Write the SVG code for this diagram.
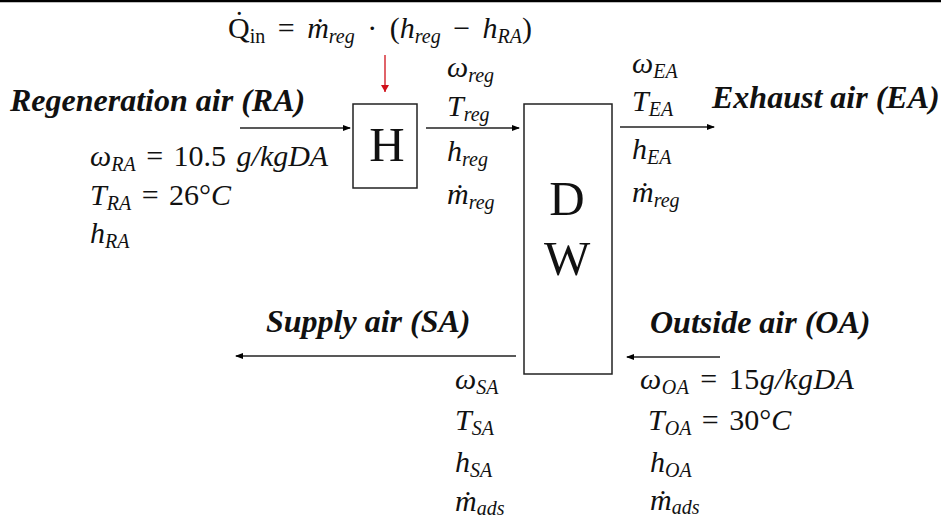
<svg xmlns="http://www.w3.org/2000/svg" width="941" height="522" viewBox="0 0 941 522">
<defs>
<marker id="ah" markerWidth="8" markerHeight="6" refX="7" refY="3" orient="auto" markerUnits="userSpaceOnUse"><path d="M0,0 L8,3 L0,6 z" fill="#000"/></marker>
<marker id="ahr" markerWidth="8" markerHeight="7" refX="4" refY="7" orient="0" markerUnits="userSpaceOnUse"><path d="M0,0 L8,0 L4,7 z" fill="#d0101a"/></marker>
</defs>
<style>
.t{font-family:"Liberation Serif","Times New Roman",serif;font-style:italic;font-weight:bold;font-size:32px;fill:#111}
.m{font-family:"Liberation Serif","Times New Roman",serif;font-style:italic;font-size:30px;fill:#111}
.u{font-style:normal}
.s{font-size:20px}
.big{font-family:"Liberation Serif","Times New Roman",serif;font-size:49px;fill:#111;text-anchor:middle}
.box{fill:#fff;stroke:#222;stroke-width:1.5}
.ln{stroke:#222;stroke-width:1.3;fill:none}
</style>
<rect width="941" height="522" fill="#fff"/>
<line x1="0" y1="1" x2="941" y2="1" stroke="#000" stroke-width="2.5"/>

<g id="connectors">
<line class="ln" x1="240" y1="128" x2="350" y2="128" marker-end="url(#ah)"/>
<line class="ln" x1="426" y1="128" x2="519" y2="128" marker-end="url(#ah)"/>
<line class="ln" x1="620" y1="127" x2="714" y2="127" marker-end="url(#ah)"/>
<line class="ln" x1="516" y1="356" x2="236" y2="356" marker-end="url(#ah)"/>
<line class="ln" x1="720" y1="357" x2="627" y2="357" marker-end="url(#ah)"/>
<line x1="385" y1="55" x2="385" y2="92" stroke="#d0101a" stroke-width="1.3" marker-end="url(#ahr)"/>
</g>

<g id="heater">
<rect class="box" x="353" y="104" width="64" height="84"/>
<text class="big" x="387" y="161">H</text>
</g>

<g id="desiccant-wheel">
<rect class="box" x="524" y="104" width="88" height="270"/>
<text class="big" x="567" y="215">D</text>
<text class="big" x="567" y="275">W</text>
</g>

<g id="heat-input">
<text class="m" x="228" y="38" word-spacing="5"><tspan class="u">Q̇</tspan><tspan class="u s" dy="5">in</tspan><tspan class="u" dy="-5"> = </tspan>ṁ<tspan class="s" dy="5">reg</tspan><tspan class="u" dy="-5"> · (</tspan>h<tspan class="s" dy="5">reg</tspan><tspan class="u" dy="-5"> − </tspan>h<tspan class="s" dy="5">RA</tspan><tspan class="u" dy="-5">)</tspan></text>
</g>

<g id="regeneration-air">
<text class="t" x="10" y="111">Regeneration air (RA)</text>
<text class="m" x="90" y="166" word-spacing="3">ω<tspan class="s" dy="5">RA</tspan><tspan class="u" dy="-5"> = 10.5 </tspan>g/kgDA</text>
<text class="m" x="90" y="205" word-spacing="3">T<tspan class="s" dy="5">RA</tspan><tspan class="u" dy="-5"> = 26°</tspan>C</text>
<text class="m" x="90" y="243">h<tspan class="s" dy="5">RA</tspan></text>
</g>

<g id="reg-stream">
<text class="m" x="447" y="77">ω<tspan class="s" dy="5">reg</tspan></text>
<text class="m" x="447" y="116">T<tspan class="s" dy="5">reg</tspan></text>
<text class="m" x="447" y="161">h<tspan class="s" dy="5">reg</tspan></text>
<text class="m" x="447" y="204">ṁ<tspan class="s" dy="5">reg</tspan></text>
</g>

<g id="exhaust-air">
<text class="t" x="712" y="108">Exhaust air (EA)</text>
<text class="m" x="632" y="73">ω<tspan class="s" dy="5">EA</tspan></text>
<text class="m" x="632" y="111">T<tspan class="s" dy="5">EA</tspan></text>
<text class="m" x="632" y="159">h<tspan class="s" dy="5">EA</tspan></text>
<text class="m" x="632" y="202">ṁ<tspan class="s" dy="5">reg</tspan></text>
</g>

<g id="supply-air">
<text class="t" x="266" y="332">Supply air (SA)</text>
<text class="m" x="455" y="389">ω<tspan class="s" dy="5">SA</tspan></text>
<text class="m" x="455" y="430">T<tspan class="s" dy="5">SA</tspan></text>
<text class="m" x="455" y="472">h<tspan class="s" dy="5">SA</tspan></text>
<text class="m" x="455" y="511">ṁ<tspan class="s" dy="4">ads</tspan></text>
</g>

<g id="outside-air">
<text class="t" x="650" y="333">Outside air (OA)</text>
<text class="m" x="640" y="389" word-spacing="3" letter-spacing="0.5">ω<tspan class="s" dy="5">OA</tspan><tspan class="u" dy="-5"> = 15</tspan>g/kgDA</text>
<text class="m" x="648" y="430" word-spacing="3">T<tspan class="s" dy="5">OA</tspan><tspan class="u" dy="-5"> = 30°</tspan>C</text>
<text class="m" x="650" y="472">h<tspan class="s" dy="5">OA</tspan></text>
<text class="m" x="650" y="510">ṁ<tspan class="s" dy="4">ads</tspan></text>
</g>
</svg>
